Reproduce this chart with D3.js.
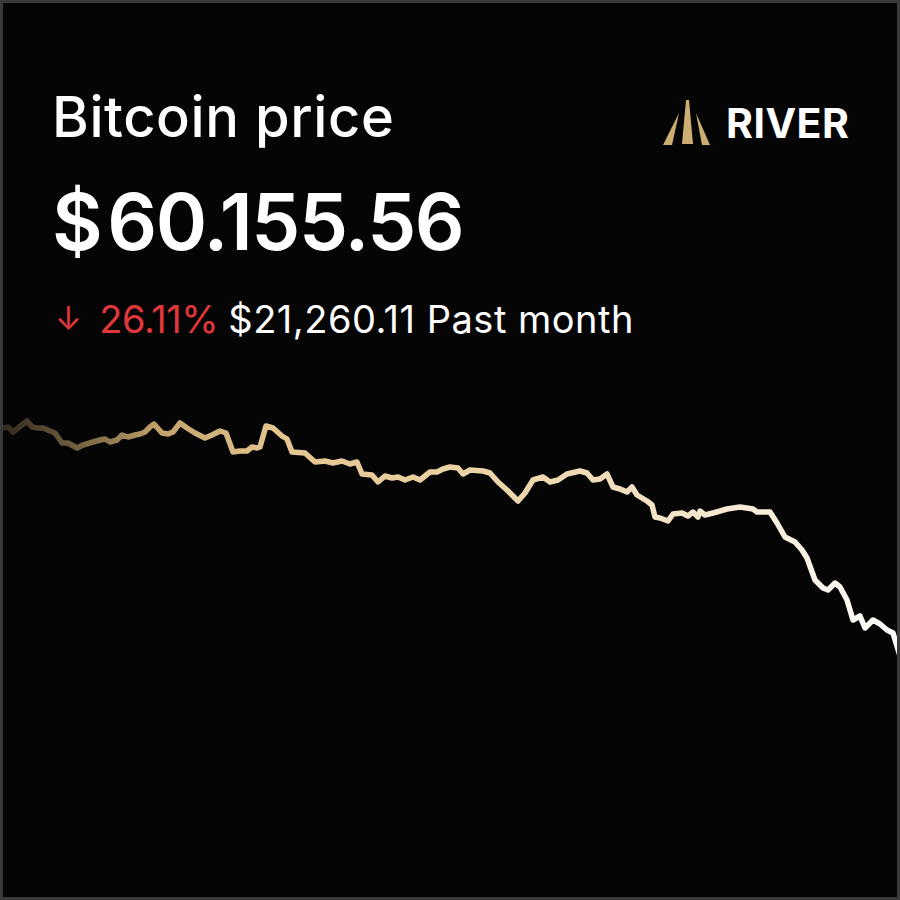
<!DOCTYPE html>
<html>
<head>
<meta charset="utf-8">
<script src="https://cdn.jsdelivr.net/npm/d3@7"></script>
<style>
  html, body { margin: 0; padding: 0; background: #050505; }
  svg { display: block; }
</style>
</head>
<body>
<div id="chart"></div>
<script>
// ---- data ----
const title = "Bitcoin price";
const currentPrice = "$60.155.56";
const changePct = "26.11%";
const changeAbs = "$21,260.11";
const periodLabel = "Past month";
const brand = "RIVER";

// hours since start of the month window
const hours = [0,2.4,6.4,10.4,14.4,21.6,25.6,29.6,34.4,40,44,49.6,54.4,61.6,66.4,74.4,80,84,88,93.6,97.6,102.4,108,112,116,120,123.2,129.6,134.4,138.4,144,149.6,156,164,169.6,176,180.8,186.4,192,197.6,201.6,205.6,208,212.8,218.4,225.6,229.6,233.6,244,252,260,266.4,273.6,280,285.6,289.6,297.6,302.4,308,313.6,318.4,324,330.4,336,344,349.6,354.4,360,366.4,370.4,376,386.4,392,398.4,405.6,414.4,420,426.4,434.4,440,446.4,453.6,464,469.6,474.4,480,485.6,490.4,496,501.6,505.6,509.6,517.6,521.6,524,528,534.4,538.4,545.6,550.4,554.4,558.4,560,564,570.4,581.6,592,602.4,605.6,616,621.6,628,636,641.6,645.6,652,658.4,662.4,668,672,677.6,682.4,688,692,698.4,704,709.6,714.4,720];
const prices = [81415.67,81323,81416,80952,81323,81973,81416,81323,81323,81045,80859,79931,79931,79466,79745,80023,80209,80302,80023,80209,80673,80488,80673,80766,80952,81416,81694,80859,80766,80952,81787,81323,80859,80395,80673,81045,80859,79095,79188,79188,79559,79466,79559,81509,81323,80580,80302,79095,79002,78167,78259,78074,78259,77981,78167,77053,76960,76310,76867,76681,76774,76495,76774,76495,77238,77238,77517,77702,77610,77053,77424,77331,77145,76310,75567,74546,75289,76495,76774,76310,76495,77053,77331,77145,76495,76588,77053,75846,75660,75381,75846,75103,74546,74175,73060,72967,72689,73339,73431,73153,73524,73060,73617,73246,73431,73802,73989,73802,73524,73524,72503,71204,70739,69997,69254,67212,66469,66283,66933,66562,65355,63498,63870,62756,63498,63127,62570,62292,60155.56];
const startPrice = 81415.67;
const endPrice = 60155.56;

const W = 900, H = 900;
const svg = d3.select("#chart").append("svg")
  .attr("width", W).attr("height", H);

svg.append("rect").attr("x", 0).attr("y", 0).attr("width", W).attr("height", H)
  .attr("fill", "#050505");

// gradient for the line
const defs = svg.append("defs");
const grad = defs.append("linearGradient").attr("id", "lineGrad")
  .attr("gradientUnits", "userSpaceOnUse")
  .attr("x1", 0).attr("y1", 0).attr("x2", W).attr("y2", 0);
[[0, "#2e281e"], [0.08, "#6e5d3f"], [0.18, "#c4a46c"], [0.3, "#e2c48e"], [0.6, "#efd8ae"], [0.85, "#f8ecd9"], [1, "#ffffff"]]
  .forEach(([o, c]) => grad.append("stop").attr("offset", o).attr("stop-color", c));

const x = d3.scaleLinear().domain([0, 720]).range([0, W]);
const y = d3.scaleLinear().domain([endPrice, startPrice]).range([656, 427]);

const line = d3.line()
  .x((d, i) => x(hours[i]))
  .y(d => y(d));

svg.append("path")
  .datum(prices)
  .attr("d", line)
  .attr("fill", "none")
  .attr("stroke", "url(#lineGrad)")
  .attr("stroke-width", 5.5)
  .attr("stroke-linejoin", "round")
  .attr("stroke-linecap", "round");

const font = "Inter, 'Noto Sans', sans-serif";

svg.append("text").text(title)
  .attr("x", 52).attr("y", 137)
  .attr("fill", "#ffffff")
  .attr("font-family", font).attr("font-weight", 500)
  .attr("font-size", 56)
  .attr("letter-spacing", 0.6);

const big = svg.append("text")
  .attr("x", 52).attr("y", 250)
  .attr("fill", "#ffffff")
  .attr("font-family", font).attr("font-weight", 600)
  .attr("font-size", 78)
  .attr("letter-spacing", -1.5);
big.append("tspan").text(currentPrice[0]);
big.append("tspan").attr("dx", 6).text(currentPrice.slice(1));

const sub = svg.append("text")
  .attr("x", 55).attr("y", 333)
  .attr("font-family", font).attr("font-weight", 400)
  .attr("font-size", 38)
  .attr("letter-spacing", -0.4);
sub.append("tspan").attr("fill", "#e0383a").attr("font-size", 32).attr("dy", -3).text("↓");
sub.append("tspan").attr("fill", "#e0383a").attr("dx", 18).attr("dy", 3).text(changePct);
sub.append("tspan").attr("fill", "#ffffff").attr("dx", 10).attr("letter-spacing", 0.5).text(changeAbs + " " + periodLabel);

// brand logo
const gold = "#cdae72";
const logo = svg.append("g");
logo.append("polygon").attr("points", "679,113 672,145 663,145").attr("fill", gold);
logo.append("polygon").attr("points", "686,100 689,100 693,144 682,144").attr("fill", gold);
logo.append("polygon").attr("points", "696,113 710,145 702,145").attr("fill", gold);

svg.append("text").text(brand)
  .attr("x", 726).attr("y", 138)
  .attr("fill", "#ffffff")
  .attr("font-family", font).attr("font-weight", 700)
  .attr("font-size", 41)
  .attr("letter-spacing", 0.5);

// frame border
svg.append("rect").attr("x", 1.5).attr("y", 1.5).attr("width", W - 3).attr("height", H - 3)
  .attr("fill", "none").attr("stroke", "#3a3a3a").attr("stroke-width", 3);
</script>
</body>
</html>
